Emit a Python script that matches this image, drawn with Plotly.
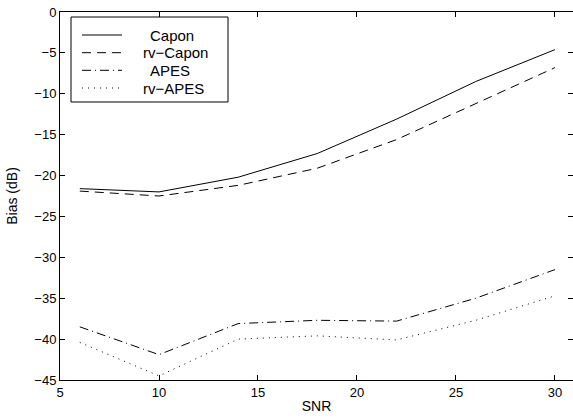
import plotly.graph_objects as go

snr = [6, 10, 14, 18, 22, 26, 30]
capon = [-21.6, -22.0, -20.2, -17.3, -13.1, -8.5, -4.6]
rv_capon = [-21.9, -22.5, -21.2, -19.1, -15.6, -11.2, -6.8]
apes = [-38.5, -41.9, -38.1, -37.7, -37.8, -35.0, -31.5]
rv_apes = [-40.4, -44.5, -40.0, -39.6, -40.1, -37.7, -34.7]

series_names = ["Capon", "rv\u2212Capon", "APES", "rv\u2212APES"]
x_ticks = [5, 10, 15, 20, 25, 30]
y_ticks = [0, -5, -10, -15, -20, -25, -30, -35, -40, -45]

font = "Liberation Sans, Arial, Helvetica, sans-serif"
dashes = ["solid", "9px,6px", "9px,4px,1px,4px", "1px,5px"]

# plot-area pixel geometry (for placing the hand-drawn legend)
L, R, T, B = 60, 573, 12, 380
def px(x):
    return (x - L) / (R - L)
def py(y):
    return (B - y) / (B - T)

fig = go.Figure()
for name, vals, dash in zip(series_names, [capon, rv_capon, apes, rv_apes], dashes):
    fig.add_trace(go.Scatter(x=snr, y=vals, mode="lines", name=name, showlegend=False,
                             line=dict(color="black", width=1, dash=dash)))

# legend box
fig.add_shape(type="rect", xref="paper", yref="paper",
              x0=px(71), x1=px(228), y0=py(102), y1=py(17),
              line=dict(color="black", width=1), fillcolor="white", layer="above")
row_y = [35, 52.7, 70.3, 88]
text_x = [148, 141, 148, 141]
for name, dash, ry, tx in zip(series_names, dashes, row_y, text_x):
    fig.add_shape(type="line", xref="paper", yref="paper",
                  x0=px(82), x1=px(122), y0=py(ry), y1=py(ry),
                  line=dict(color="black", width=1, dash=dash), layer="above")
    fig.add_annotation(text=name, xref="paper", yref="paper", x=px(tx), y=py(ry),
                       xanchor="left", yanchor="middle", showarrow=False,
                       font=dict(family=font, size=15, color="black"))

axis_common = dict(showgrid=False, zeroline=False, showline=True, linecolor="black",
                   linewidth=1, mirror="ticks", ticks="inside", ticklen=5,
                   tickcolor="black", tickfont=dict(family=font, size=13, color="black"))

fig.update_layout(
    width=573, height=420,
    margin=dict(l=L, r=573 - R, t=T, b=420 - B),
    paper_bgcolor="white", plot_bgcolor="white",
    font=dict(family=font, size=13, color="black"),
    xaxis=dict(range=[5, 30.91], tickvals=x_ticks,
               title=dict(text="SNR", standoff=2, font=dict(size=14)), **axis_common),
    yaxis=dict(range=[-45, 0], tickvals=y_ticks,
               title=dict(text="Bias (dB)", standoff=13, font=dict(size=14)), **axis_common),
    showlegend=False,
)

fig.write_html("out.html", config={"displayModeBar": False},
               post_script="document.body.style.margin='0';document.body.style.overflow='hidden';")
